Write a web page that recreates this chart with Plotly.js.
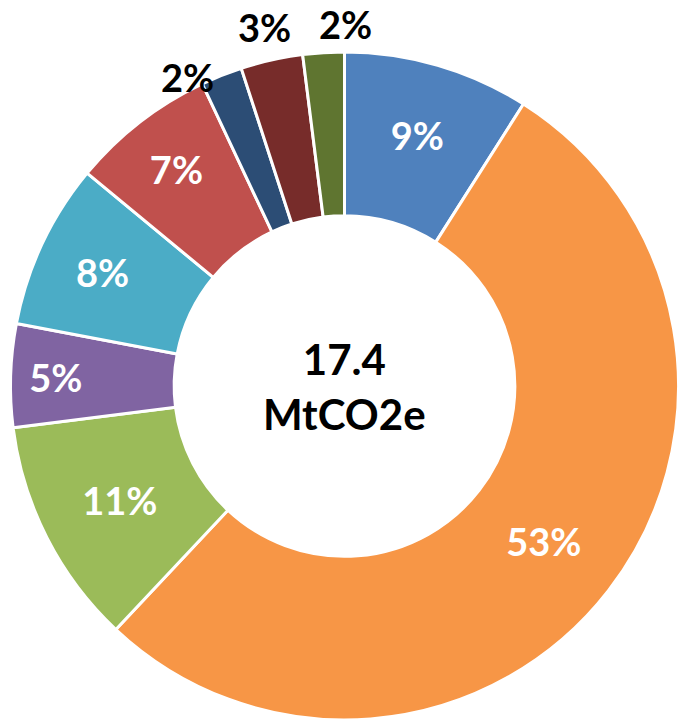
<!DOCTYPE html>
<html>
<head>
<meta charset="utf-8">
<script src="https://cdn.plot.ly/plotly-3.0.1.min.js"></script>
<style>
  html, body { margin: 0; padding: 0; background: #fff; }
  #chart { width: 679px; height: 724px; }
</style>
</head>
<body>
<div id="chart"></div>
<script>
// share of emissions (%), clockwise from 12 o'clock
const sectors = ["A", "B", "C", "D", "E", "F", "G", "H", "I"];
const shares = [9, 53, 11, 5, 8, 7, 2, 3, 2];
const sliceColors = ["#4F81BD", "#F79646", "#9BBB59", "#8064A2", "#4BACC6",
                     "#C0504D", "#2C4D75", "#772C2A", "#5F7530"];
// small slices get their label outside the ring
const outsideLabel = [false, false, false, false, false, false, true, true, true];
const labelNudge = [[0, 0], [0, 0], [0, 0], [0, 0], [0, 0], [0, 0], [-24, -28], [-1, 5], [24, 0]];
const totalText = "17.4<br>MtCO2e";

const W = 679, H = 724;
const margin = { l: 10, r: 0, t: 52, b: 4 };
const font = "Lato, 'Open Sans', sans-serif";

const trace = {
    type: "pie",
    labels: sectors,
    values: shares,
    sort: false,
    direction: "clockwise",
    rotation: 0,
    hole: 0.51,
    marker: { colors: sliceColors, line: { color: "#fff", width: 3 } },
    texttemplate: shares.map((v, i) => outsideLabel[i] ? "" : "%{value}%"),
    textposition: "inside",
    insidetextorientation: "horizontal",
    insidetextfont: { family: font, size: 38, color: "#fff", weight: "bold" },
    showlegend: false,
    hoverinfo: "label+percent"
};

// outside labels: placed at the slice's mid angle, just beyond the ring
const plotW = W - margin.l - margin.r, plotH = H - margin.t - margin.b;
const R = Math.min(plotW, plotH) / 2;
const total = shares.reduce((a, b) => a + b, 0);
const annotations = [{
    text: totalText,
    x: 0.5, y: 0.5, xref: "paper", yref: "paper",
    showarrow: false,
    font: { family: font, size: 42, color: "#000", weight: "bold" }
}];
let cum = 0;
shares.forEach((v, i) => {
    const mid = (cum + v / 2) / total * 2 * Math.PI;
    cum += v;
    if (!outsideLabel[i]) return;
    const r = R * 1.085;
    annotations.push({
        text: v + "%",
        x: 0.5 + r * Math.sin(mid) / plotW,
        y: 0.5 + r * Math.cos(mid) / plotH,
        xref: "paper", yref: "paper",
        xanchor: "center", yanchor: "middle",
        xshift: labelNudge[i][0], yshift: labelNudge[i][1],
        showarrow: false,
        font: { family: font, size: 38, color: "#000", weight: "bold" }
    });
});

const layout = {
    width: W,
    height: H,
    margin: margin,
    paper_bgcolor: "#fff",
    showlegend: false,
    annotations: annotations
};

Plotly.newPlot("chart", [trace], layout, { displayModeBar: false, staticPlot: true });
</script>
</body>
</html>
